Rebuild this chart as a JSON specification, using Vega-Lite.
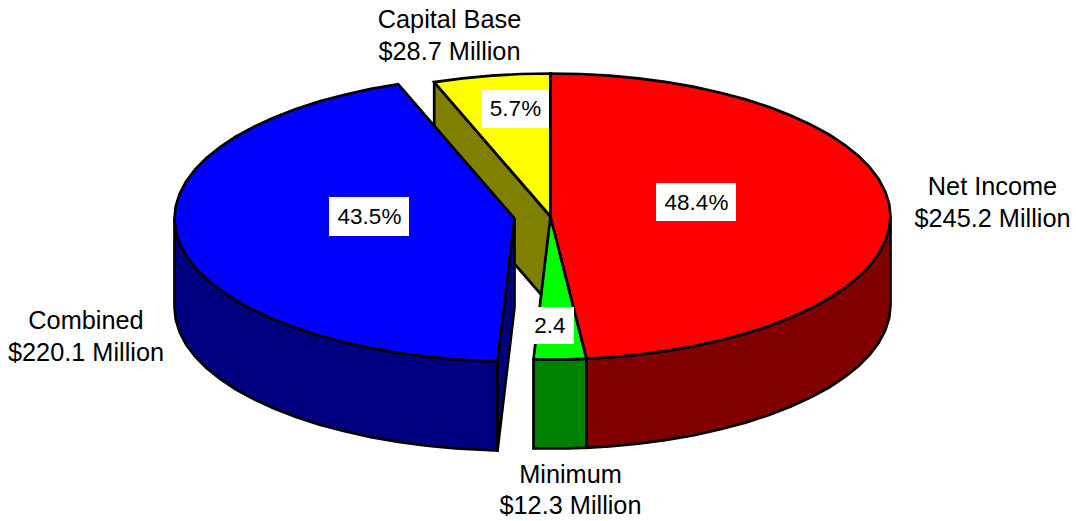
{"$schema":"https://vega.github.io/schema/vega-lite/v6.json","width":1076,"height":521,"padding":0,"autosize":{"type":"fit","contains":"padding"},"background":"white","view":{"stroke":null},
"datasets":{"shapes":[
{"p":"Capital wall","i":1,"x":433.7,"y":81.6},{"p":"Capital wall","i":2,"x":550,"y":216},{"p":"Capital wall","i":3,"x":550,"y":305},{"p":"Capital wall","i":4,"x":433.7,"y":170.6},{"p":"Capital wall","i":5,"x":433.7,"y":81.6},
{"p":"Capital top","i":1,"x":550,"y":216},{"p":"Capital top","i":2,"x":433.7,"y":81.6},{"p":"Capital top","i":3,"x":462,"y":77.9},{"p":"Capital top","i":4,"x":491,"y":75.2},{"p":"Capital top","i":5,"x":520.4,"y":73.5},{"p":"Capital top","i":6,"x":550,"y":73},{"p":"Capital top","i":7,"x":550,"y":216},
{"p":"Combined side","i":1,"x":174,"y":218},{"p":"Combined side","i":2,"x":175.3,"y":230.5},{"p":"Combined side","i":3,"x":179.2,"y":242.8},{"p":"Combined side","i":4,"x":185.6,"y":255},{"p":"Combined side","i":5,"x":194.5,"y":266.9},{"p":"Combined side","i":6,"x":205.9,"y":278.4},{"p":"Combined side","i":7,"x":219.6,"y":289.5},{"p":"Combined side","i":8,"x":235.5,"y":300},{"p":"Combined side","i":9,"x":253.6,"y":309.9},{"p":"Combined side","i":10,"x":273.6,"y":319.1},{"p":"Combined side","i":11,"x":295.4,"y":327.5},{"p":"Combined side","i":12,"x":319,"y":335.1},{"p":"Combined side","i":13,"x":344,"y":341.8},{"p":"Combined side","i":14,"x":370.3,"y":347.6},{"p":"Combined side","i":15,"x":397.7,"y":352.4},{"p":"Combined side","i":16,"x":426,"y":356.1},{"p":"Combined side","i":17,"x":455,"y":358.8},{"p":"Combined side","i":18,"x":484.4,"y":360.5},{"p":"Combined side","i":19,"x":497,"y":361},{"p":"Combined side","i":20,"x":497,"y":450},{"p":"Combined side","i":21,"x":484.4,"y":449.5},{"p":"Combined side","i":22,"x":455,"y":447.8},{"p":"Combined side","i":23,"x":426,"y":445.1},{"p":"Combined side","i":24,"x":397.7,"y":441.4},{"p":"Combined side","i":25,"x":370.3,"y":436.6},{"p":"Combined side","i":26,"x":344,"y":430.8},{"p":"Combined side","i":27,"x":319,"y":424.1},{"p":"Combined side","i":28,"x":295.4,"y":416.5},{"p":"Combined side","i":29,"x":273.6,"y":408.1},{"p":"Combined side","i":30,"x":253.6,"y":398.9},{"p":"Combined side","i":31,"x":235.5,"y":389},{"p":"Combined side","i":32,"x":219.6,"y":378.5},{"p":"Combined side","i":33,"x":205.9,"y":367.4},{"p":"Combined side","i":34,"x":194.5,"y":355.9},{"p":"Combined side","i":35,"x":185.6,"y":344},{"p":"Combined side","i":36,"x":179.2,"y":331.8},{"p":"Combined side","i":37,"x":175.3,"y":319.5},{"p":"Combined side","i":38,"x":174,"y":307},{"p":"Combined side","i":39,"x":174,"y":218},
{"p":"Combined wall","i":1,"x":514,"y":218},{"p":"Combined wall","i":2,"x":514,"y":307},{"p":"Combined wall","i":3,"x":497,"y":450},{"p":"Combined wall","i":4,"x":497,"y":361},{"p":"Combined wall","i":5,"x":514,"y":218},
{"p":"Combined top","i":1,"x":514,"y":218},{"p":"Combined top","i":2,"x":397.7,"y":83.6},{"p":"Combined top","i":3,"x":370.3,"y":88.4},{"p":"Combined top","i":4,"x":344,"y":94.2},{"p":"Combined top","i":5,"x":319,"y":100.9},{"p":"Combined top","i":6,"x":295.4,"y":108.5},{"p":"Combined top","i":7,"x":273.6,"y":116.9},{"p":"Combined top","i":8,"x":253.6,"y":126.1},{"p":"Combined top","i":9,"x":235.5,"y":136},{"p":"Combined top","i":10,"x":219.6,"y":146.5},{"p":"Combined top","i":11,"x":205.9,"y":157.6},{"p":"Combined top","i":12,"x":194.5,"y":169.1},{"p":"Combined top","i":13,"x":185.6,"y":181},{"p":"Combined top","i":14,"x":179.2,"y":193.2},{"p":"Combined top","i":15,"x":175.3,"y":205.5},{"p":"Combined top","i":16,"x":174,"y":218},{"p":"Combined top","i":17,"x":175.3,"y":230.5},{"p":"Combined top","i":18,"x":179.2,"y":242.8},{"p":"Combined top","i":19,"x":185.6,"y":255},{"p":"Combined top","i":20,"x":194.5,"y":266.9},{"p":"Combined top","i":21,"x":205.9,"y":278.4},{"p":"Combined top","i":22,"x":219.6,"y":289.5},{"p":"Combined top","i":23,"x":235.5,"y":300},{"p":"Combined top","i":24,"x":253.6,"y":309.9},{"p":"Combined top","i":25,"x":273.6,"y":319.1},{"p":"Combined top","i":26,"x":295.4,"y":327.5},{"p":"Combined top","i":27,"x":319,"y":335.1},{"p":"Combined top","i":28,"x":344,"y":341.8},{"p":"Combined top","i":29,"x":370.3,"y":347.6},{"p":"Combined top","i":30,"x":397.7,"y":352.4},{"p":"Combined top","i":31,"x":426,"y":356.1},{"p":"Combined top","i":32,"x":455,"y":358.8},{"p":"Combined top","i":33,"x":484.4,"y":360.5},{"p":"Combined top","i":34,"x":497,"y":361},{"p":"Combined top","i":35,"x":514,"y":218},
{"p":"Minimum side","i":1,"x":533,"y":358.8},{"p":"Minimum side","i":2,"x":550,"y":359},{"p":"Minimum side","i":3,"x":568,"y":358.9},{"p":"Minimum side","i":4,"x":586,"y":358.2},{"p":"Minimum side","i":5,"x":586,"y":447.2},{"p":"Minimum side","i":6,"x":568,"y":447.9},{"p":"Minimum side","i":7,"x":550,"y":448},{"p":"Minimum side","i":8,"x":533,"y":447.8},{"p":"Minimum side","i":9,"x":533,"y":358.8},
{"p":"Net side","i":1,"x":890,"y":216},{"p":"Net side","i":2,"x":888.7,"y":228.5},{"p":"Net side","i":3,"x":884.8,"y":240.8},{"p":"Net side","i":4,"x":878.4,"y":253},{"p":"Net side","i":5,"x":869.5,"y":264.9},{"p":"Net side","i":6,"x":858.1,"y":276.4},{"p":"Net side","i":7,"x":844.4,"y":287.5},{"p":"Net side","i":8,"x":828.5,"y":298},{"p":"Net side","i":9,"x":810.4,"y":307.9},{"p":"Net side","i":10,"x":790.4,"y":317.1},{"p":"Net side","i":11,"x":768.6,"y":325.5},{"p":"Net side","i":12,"x":745,"y":333.1},{"p":"Net side","i":13,"x":720,"y":339.8},{"p":"Net side","i":14,"x":693.7,"y":345.6},{"p":"Net side","i":15,"x":666.3,"y":350.4},{"p":"Net side","i":16,"x":638,"y":354.1},{"p":"Net side","i":17,"x":609,"y":356.8},{"p":"Net side","i":18,"x":586,"y":358.2},{"p":"Net side","i":19,"x":586,"y":447.2},{"p":"Net side","i":20,"x":609,"y":445.8},{"p":"Net side","i":21,"x":638,"y":443.1},{"p":"Net side","i":22,"x":666.3,"y":439.4},{"p":"Net side","i":23,"x":693.7,"y":434.6},{"p":"Net side","i":24,"x":720,"y":428.8},{"p":"Net side","i":25,"x":745,"y":422.1},{"p":"Net side","i":26,"x":768.6,"y":414.5},{"p":"Net side","i":27,"x":790.4,"y":406.1},{"p":"Net side","i":28,"x":810.4,"y":396.9},{"p":"Net side","i":29,"x":828.5,"y":387},{"p":"Net side","i":30,"x":844.4,"y":376.5},{"p":"Net side","i":31,"x":858.1,"y":365.4},{"p":"Net side","i":32,"x":869.5,"y":353.9},{"p":"Net side","i":33,"x":878.4,"y":342},{"p":"Net side","i":34,"x":884.8,"y":329.8},{"p":"Net side","i":35,"x":888.7,"y":317.5},{"p":"Net side","i":36,"x":890,"y":305},{"p":"Net side","i":37,"x":890,"y":216},
{"p":"Minimum top","i":1,"x":550,"y":216},{"p":"Minimum top","i":2,"x":586,"y":358.2},{"p":"Minimum top","i":3,"x":568,"y":358.9},{"p":"Minimum top","i":4,"x":550,"y":359},{"p":"Minimum top","i":5,"x":533,"y":358.8},{"p":"Minimum top","i":6,"x":550,"y":216},
{"p":"Net top","i":1,"x":550,"y":216},{"p":"Net top","i":2,"x":550,"y":73},{"p":"Net top","i":3,"x":579.6,"y":73.5},{"p":"Net top","i":4,"x":609,"y":75.2},{"p":"Net top","i":5,"x":638,"y":77.9},{"p":"Net top","i":6,"x":666.3,"y":81.6},{"p":"Net top","i":7,"x":693.7,"y":86.4},{"p":"Net top","i":8,"x":720,"y":92.2},{"p":"Net top","i":9,"x":745,"y":98.9},{"p":"Net top","i":10,"x":768.6,"y":106.5},{"p":"Net top","i":11,"x":790.4,"y":114.9},{"p":"Net top","i":12,"x":810.4,"y":124.1},{"p":"Net top","i":13,"x":828.5,"y":134},{"p":"Net top","i":14,"x":844.4,"y":144.5},{"p":"Net top","i":15,"x":858.1,"y":155.6},{"p":"Net top","i":16,"x":869.5,"y":167.1},{"p":"Net top","i":17,"x":878.4,"y":179},{"p":"Net top","i":18,"x":884.8,"y":191.2},{"p":"Net top","i":19,"x":888.7,"y":203.5},{"p":"Net top","i":20,"x":890,"y":216},{"p":"Net top","i":21,"x":888.7,"y":228.5},{"p":"Net top","i":22,"x":884.8,"y":240.8},{"p":"Net top","i":23,"x":878.4,"y":253},{"p":"Net top","i":24,"x":869.5,"y":264.9},{"p":"Net top","i":25,"x":858.1,"y":276.4},{"p":"Net top","i":26,"x":844.4,"y":287.5},{"p":"Net top","i":27,"x":828.5,"y":298},{"p":"Net top","i":28,"x":810.4,"y":307.9},{"p":"Net top","i":29,"x":790.4,"y":317.1},{"p":"Net top","i":30,"x":768.6,"y":325.5},{"p":"Net top","i":31,"x":745,"y":333.1},{"p":"Net top","i":32,"x":720,"y":339.8},{"p":"Net top","i":33,"x":693.7,"y":345.6},{"p":"Net top","i":34,"x":666.3,"y":350.4},{"p":"Net top","i":35,"x":638,"y":354.1},{"p":"Net top","i":36,"x":609,"y":356.8},{"p":"Net top","i":37,"x":586,"y":358.2},{"p":"Net top","i":38,"x":550,"y":216}
],
"boxes":[
{"label":"43.5%","x":328.5,"x2":408.5,"y":196.5,"y2":235.5,"cx":369,"cy":216.5},
{"label":"48.4%","x":655.5,"x2":735.5,"y":182.5,"y2":220.5,"cx":696,"cy":202},
{"label":"5.7%","x":481.5,"x2":548.5,"y":89.5,"y2":127.5,"cx":515,"cy":108.5},
{"label":"2.4","x":527.5,"x2":573.5,"y":306.5,"y2":343.5,"cx":549.5,"cy":325}
],
"labels":[
{"t":"Capital Base","x":449,"y":19},{"t":"$28.7 Million","x":449,"y":51},
{"t":"Net Income","x":992,"y":186},{"t":"$245.2 Million","x":992,"y":218},
{"t":"Combined","x":85.5,"y":320.5},{"t":"$220.1 Million","x":85.5,"y":352},
{"t":"Minimum","x":570,"y":474},{"t":"$12.3 Million","x":570,"y":505}
]},
"layer":[
{"data":{"name":"shapes"},"mark":{"type":"line","stroke":"black","strokeWidth":2.7,"strokeJoin":"miter","strokeCap":"butt","clip":false},
"encoding":{
"x":{"field":"x","type":"quantitative","scale":{"domain":[-0.5,1075.5],"nice":false,"zero":false},"axis":null},
"y":{"field":"y","type":"quantitative","scale":{"domain":[520.5,-0.5],"nice":false,"zero":false},"axis":null},
"order":{"field":"i","type":"quantitative"},
"fill":{"field":"p","type":"nominal","legend":null,"sort":null,"scale":{"domain":["Capital wall","Capital top","Combined side","Combined wall","Combined top","Minimum side","Net side","Minimum top","Net top"],"range":["#808000","#ffff00","#000080","#000080","#0000ff","#008000","#800000","#00ff00","#ff0000"]}}}},
{"data":{"name":"boxes"},"mark":{"type":"rect","fill":"white"},"encoding":{
"x":{"field":"x","type":"quantitative","axis":null},"x2":{"field":"x2"},
"y":{"field":"y","type":"quantitative","axis":null},"y2":{"field":"y2"}}},
{"data":{"name":"boxes"},"mark":{"type":"text","font":"Liberation Sans","fontSize":22.5,"fill":"black","align":"center","baseline":"middle"},"encoding":{
"x":{"field":"cx","type":"quantitative","axis":null},"y":{"field":"cy","type":"quantitative","axis":null},"text":{"field":"label"}}},
{"data":{"name":"labels"},"mark":{"type":"text","font":"Liberation Sans","fontSize":25.3,"fill":"black","align":"center","baseline":"middle"},"encoding":{
"x":{"field":"x","type":"quantitative","axis":null},"y":{"field":"y","type":"quantitative","axis":null},"text":{"field":"t"}}}
]}
